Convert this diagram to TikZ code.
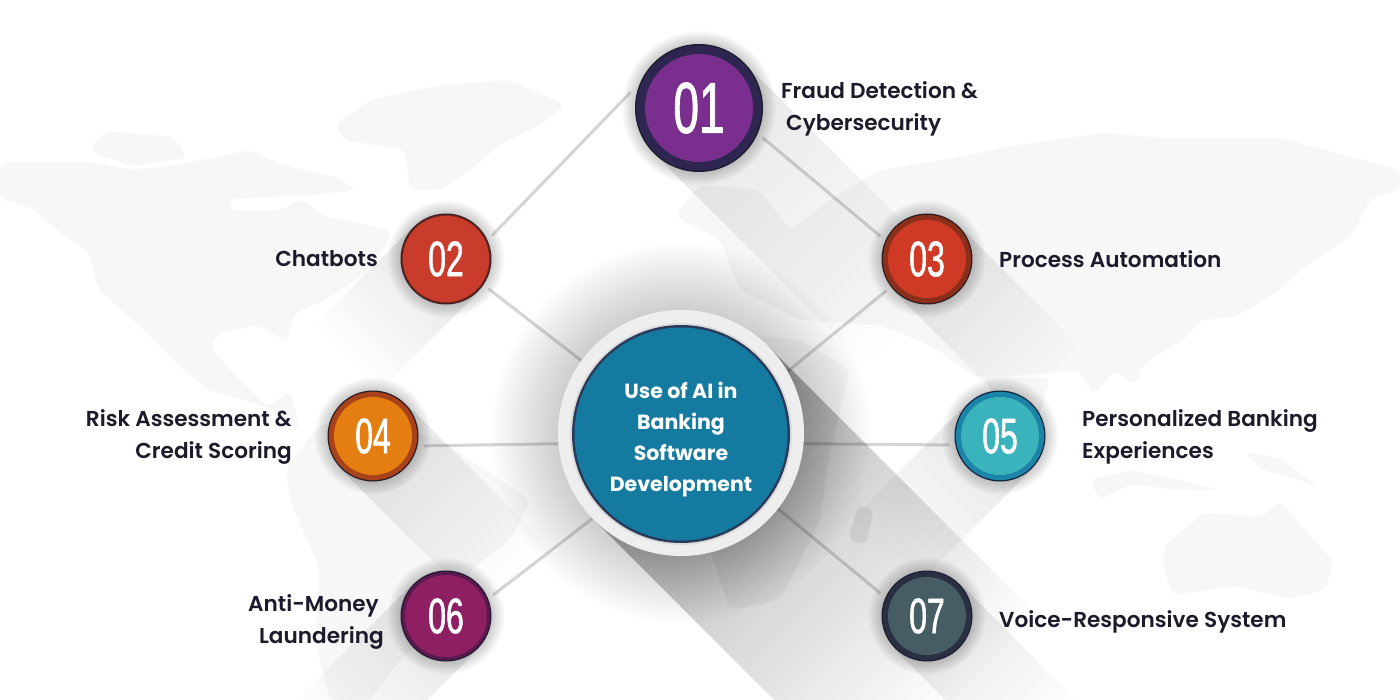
\documentclass[tikz,border=0pt]{standalone}
\usepackage{fontspec}
\setmainfont{Poppins}
\newfontfamily\labfont{Poppins SemiBold}
\newfontfamily\hubfont{Poppins}
\newfontfamily\numfont[FakeStretch=0.64,FakeBold=1.1]{Liberation Sans}
\definecolor{mapc}{HTML}{F7F7F7}
\definecolor{mapd}{HTML}{F1F1F1}
\definecolor{labc}{HTML}{1B1B2B}
\definecolor{hubring}{HTML}{EEEEEE}
\definecolor{hubedge}{HTML}{DCDCDC}
\definecolor{hubdark}{HTML}{2A3A5A}
\definecolor{hubblue}{HTML}{157A9F}
\tikzset{
  land/.style={fill=mapc, draw=none, rounded corners=7pt},
  dot/.style={circle, inner sep=0pt, draw=none},
  anchorc/.style={circle, inner sep=0pt, draw=none},
  linkline/.style={draw=black, draw opacity=.17, line width=3pt},
  lab/.style={font=\labfont\fontsize{21.6}{32}\selectfont, text=labc, inner sep=0pt},
  numtxt/.style={text=white, font=\numfont\fontsize{#1}{#1}\selectfont},
}
% name, x, y, outer r, inner r, edge, ring, fill, text
\newcommand{\numnode}[9]{%
  \definecolor{c#1e}{HTML}{#6}\definecolor{c#1r}{HTML}{#7}\definecolor{c#1f}{HTML}{#8}%
  \foreach \k in {1,...,8}{\fill[black, opacity=.022] (#2,#3) circle ({#4+\k*1.6});}
  \node[anchorc, minimum size={2*(#4+6)*1pt}] (#1) at (#2,#3) {};
  \node[dot, fill=c#1e, minimum size={2*#4*1pt}] (#1e) at (#2,#3) {};
  \node[dot, fill=c#1r, minimum size={2*(#4-1.3)*1pt}] (#1r) at (#2,#3) {};
  \node[dot, fill=c#1f, minimum size={2*#5*1pt}] (#1f) at (#2,#3) {};
  \node[numtxt=\numsize, anchor=center] (#1t) at (#2,#3) {#9};
}
% x, y, half width, length, angle: nested strips, so the shadow thins out along its length
\newcommand{\stripe}[5]{%
  \foreach \k in {1,...,24}{\fill[black, opacity=.0058, shift={(#1,#2)}, rotate=#5] (0,-#3) rectangle ({#4*\k/24},#3);}
}
\begin{document}
\begin{tikzpicture}[x=1pt,y=-1pt]
\useasboundingbox (0,0) rectangle (1400,700);
\fill[white] (0,0) rectangle (1400,700);
% --- world map ---
\fill[land] (0,162) -- (89,162) -- (134,170) -- (192,162) -- (250,150) -- (286,166) -- (339,178) -- (357,190) -- (312,195) -- (228,199) -- (232,211) -- (277,211) -- (303,199) -- (321,215) -- (357,223) -- (393,231) -- (370,270) -- (330,297) -- (295,313) -- (286,342) -- (259,325) -- (219,333) -- (210,346) -- (235,375) -- (268,407) -- (290,391) -- (300,430) -- (268,407) -- (210,391) -- (179,366) -- (147,333) -- (98,289) -- (89,252) -- (58,231) -- (31,207) -- (0,199) -- cycle;
\fill[land] (92,146) -- (107,131) -- (174,137) -- (187,158) -- (134,166) -- (94,154) -- cycle;
\fill[land] (335,125) -- (370,100) -- (440,85) -- (510,80) -- (565,105) -- (540,125) -- (500,145) -- (470,170) -- (440,190) -- (410,190) -- (405,150) -- (345,140) -- cycle;
\fill[land] (286,468) -- (320,425) -- (370,420) -- (440,440) -- (500,480) -- (530,500) -- (510,540) -- (470,570) -- (460,610) -- (400,660) -- (370,700) -- (330,700) -- (315,640) -- (320,570) -- (290,500) -- cycle;
\fill[land] (675,215) -- (700,185) -- (760,190) -- (790,230) -- (830,200) -- (880,170) -- (954,158) -- (1012,146) -- (1102,133) -- (1164,138) -- (1280,138) -- (1400,170) -- (1400,190) -- (1370,199) -- (1352,235) -- (1303,268) -- (1280,289) -- (1236,317) -- (1200,320) -- (1187,337) -- (1146,362) -- (1133,386) -- (1115,370) -- (1093,395) -- (1079,370) -- (1039,374) -- (977,378) -- (930,345) -- (880,325) -- (800,320) -- (740,290) -- (720,240) -- (690,225) -- cycle;
\fill[land] (620,350) -- (700,330) -- (800,340) -- (850,370) -- (830,450) -- (820,520) -- (780,600) -- (730,610) -- (700,520) -- (650,470) -- cycle;
\fill[land] (985,378) -- (1050,378) -- (1030,445) -- (1010,440) -- cycle;
\fill[land, fill=mapd] (858,505) -- (874,510) -- (866,545) -- (848,540) -- cycle;
\fill[land] (1164,546) -- (1204,513) -- (1262,517) -- (1280,501) -- (1334,562) -- (1325,590) -- (1289,599) -- (1236,586) -- (1173,595) -- (1164,570) -- cycle;
\fill[land] (1245,452) -- (1280,458) -- (1320,488) -- (1300,480) -- (1262,470) -- cycle;
\fill[land] (1090,480) -- (1130,470) -- (1180,480) -- (1220,490) -- (1180,490) -- (1130,484) -- (1100,500) -- cycle;
% --- long shadows ---
\stripe{699}{108}{64}{300}{-45}
\stripe{446}{259}{46}{140}{-135}
\stripe{927}{259}{46}{170}{-45}
\stripe{373}{436}{46}{200}{-45}
\stripe{1000}{436}{46}{170}{-135}
\stripe{446}{616}{46}{170}{-135}
\stripe{927}{616}{46}{170}{-45}
\foreach \k in {1,...,36}{\fill[black, opacity=.0066, shift={(681,433)}, rotate=-45] (0,-123) rectangle ({380*\k/36},123);}
% --- hub glow ---
\foreach \k in {1,...,24}{\fill[black, opacity=.0082] (681,433) circle ({123+\k*2.8});}
% --- nodes ---
\node[anchorc, minimum size=246pt] (hub) at (681,433) {};
\def\numsize{72}
\numnode{n01}{699}{108}{64}{54}{1B1B2B}{2E2550}{7A2F8F}{01}
\def\numsize{50}
\numnode{n02}{446}{259}{45.5}{43}{3A1C22}{7E2A1A}{C93C2C}{02}
\numnode{n03}{927}{259}{45.5}{39}{2A1A22}{8A2F1A}{CF3A26}{03}
\numnode{n04}{373}{436}{45.5}{39}{2A1A22}{A8421A}{E47E10}{04}
\numnode{n05}{1000}{436}{45.5}{39}{10233A}{1C84A8}{3AB3BD}{05}
\numnode{n06}{446}{616}{45.5}{41}{221A30}{5A1A50}{8F1F63}{06}
\numnode{n07}{927}{616}{45.5}{39}{1C2030}{2A3042}{465D63}{07}
% --- connectors ---
\draw[linkline] (n01.167) -- (n02.27);
\draw[linkline] (n01.-25) -- (n03.154);
\draw[linkline] (n02.-35) -- (hub.144.6);
\draw[linkline] (n03.218) -- (hub.30.5);
\draw[linkline] (n04.-11) -- (hub.185.6);
\draw[linkline] (n05.190) -- (hub.-5.6);
\draw[linkline] (n06.24.5) -- (hub.224);
\draw[linkline] (n07.154) -- (hub.-38.6);
% --- hub ---
\node[dot, fill=hubring, minimum size=246pt] (hubr) at (681,433) {};
\node[dot, fill=hubedge, minimum size=222pt] (hube) at (681,434) {};
\node[dot, fill=hubdark, minimum size=218pt] (hubd) at (681,434) {};
\node[dot, fill=hubblue, minimum size=213pt] (hubf) at (681,434) {};
\node[font=\hubfont\bfseries\fontsize{20.5}{31}\selectfont, text=white, align=center, inner sep=0pt] (hubt) at (681,440) {Use of AI in\\Banking\\Software\\Development};
% --- labels ---
\node[lab, anchor=west, align=left] (l01) at (781,109) {Fraud Detection \&\\\hspace*{5pt}Cybersecurity};
\node[lab, anchor=east] (l02) at (378,259) {Chatbots};
\node[lab, anchor=west] (l03) at (999,259) {Process Automation};
\node[lab, anchor=east, align=right] (l04) at (292,437) {Risk Assessment \&\\Credit Scoring};
\node[lab, anchor=west, align=left] (l05) at (1082,437) {Personalized Banking\\Experiences};
\node[lab, anchor=east, align=right] (l06) at (384,622) {Anti-Money\hspace*{5pt}\\Laundering};
\node[lab, anchor=west] (l07) at (999,622) {Voice-Responsive System};
\end{tikzpicture}
\end{document}
